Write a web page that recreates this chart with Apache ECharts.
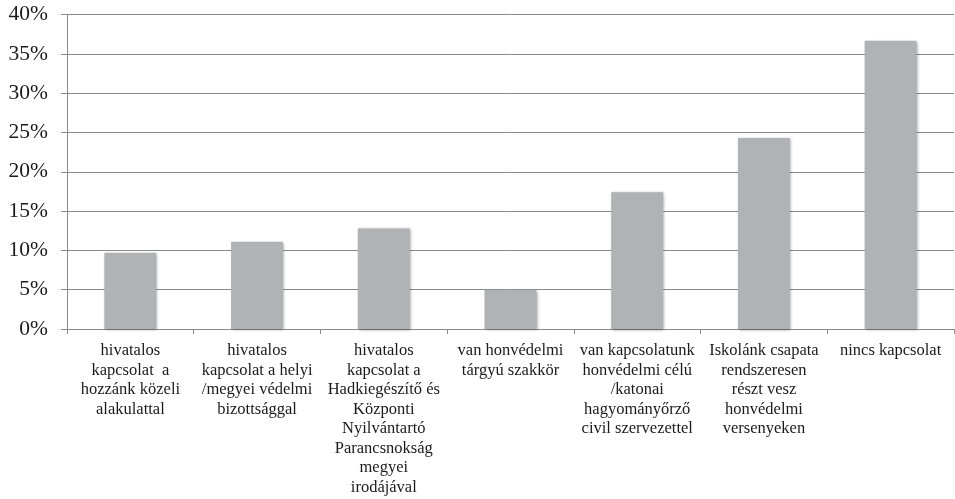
<!DOCTYPE html>
<html>
<head>
<meta charset="utf-8">
<script src="https://cdn.jsdelivr.net/npm/echarts@6/dist/echarts.min.js"></script>
<style>
html,body{margin:0;padding:0;background:#fff;}
#chart{width:955px;height:499px;}
</style>
</head>
<body>
<div id="chart"></div>
<script>
const categories = [
  "hivatalos\nkapcsolat  a\nhozzánk közeli\nalakulattal",
  "hivatalos\nkapcsolat a helyi\n/megyei védelmi\nbizottsággal",
  "hivatalos\nkapcsolat a\nHadkiegészítő és\nKözponti\nNyilvántartó\nParancsnokság\nmegyei\nirodájával",
  "van honvédelmi\ntárgyú szakkör",
  "van kapcsolatunk\nhonvédelmi célú\n/katonai\nhagyományőrző\ncivil szervezettel",
  "Iskolánk csapata\nrendszeresen\nrészt vesz\nhonvédelmi\nversenyeken",
  "nincs kapcsolat"
];
const values = [9.7, 11.1, 12.8, 5.0, 17.4, 24.3, 36.7];
const yTicks = [0, 5, 10, 15, 20, 25, 30, 35, 40];

const chart = echarts.init(document.getElementById('chart'));
const font = "'Liberation Serif', 'DejaVu Serif', serif";
chart.setOption({
  animation: false,
  grid: { left: 67, right: 1, top: 14.7, bottom: 170 },
  xAxis: {
    type: 'category',
    data: categories,
    axisLine: { show: true, lineStyle: { color: '#8a8a8a', width: 1 } },
    axisTick: { show: true, length: 5, alignWithLabel: false, lineStyle: { color: '#8a8a8a' } },
    axisLabel: {
      interval: 0,
      margin: 12,
      color: '#1a1a1a',
      fontFamily: font,
      fontSize: 16.5,
      lineHeight: 19.5,
      align: 'center'
    },
    splitLine: { show: false }
  },
  yAxis: {
    type: 'value',
    min: yTicks[0],
    max: yTicks[yTicks.length - 1],
    interval: 5,
    axisLine: { show: true, lineStyle: { color: '#8a8a8a', width: 1 } },
    axisTick: { show: true, length: 6, lineStyle: { color: '#8a8a8a' } },
    axisLabel: {
      margin: 19,
      color: '#1a1a1a',
      fontFamily: font,
      fontSize: 21.5,
      formatter: v => v + '%'
    },
    splitLine: { show: true, lineStyle: { color: '#8a8a8a', width: 1 } }
  },
  series: [{
    type: 'bar',
    data: values,
    barWidth: 52,
    itemStyle: {
      color: '#b1b2b5',
      shadowBlur: 3,
      shadowColor: 'rgba(0,0,0,0.35)',
      shadowOffsetX: 1,
      shadowOffsetY: 1
    }
  }]
});
</script>
</body>
</html>
